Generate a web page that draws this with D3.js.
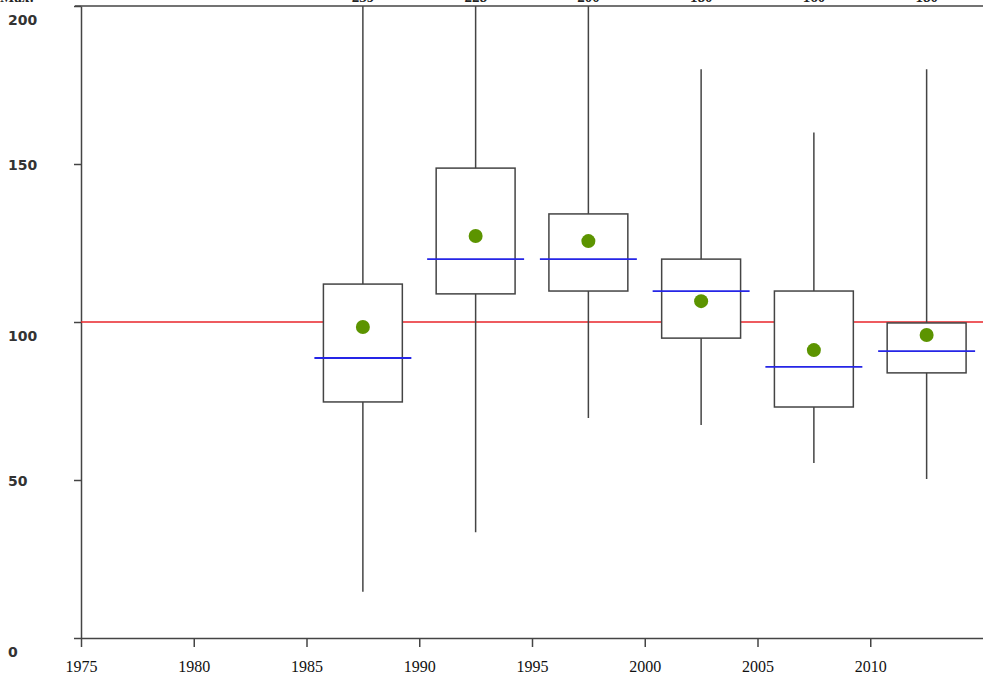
<!DOCTYPE html>
<html>
<head>
<meta charset="utf-8">
<script src="https://cdn.jsdelivr.net/npm/d3@7"></script>
<style>
  body { margin: 0; background: #fff; }
  svg { display: block; }
</style>
</head>
<body>
<div id="chart"></div>
<script>
// one box per 5-year period, centred in the period
var periods = [1987.5, 1992.5, 1997.5, 2002.5, 2007.5, 2012.5];
var mins    = [14.6, 33.5, 69.6, 67.4, 55.4, 50.3];
var q1s     = [74.7, 108.9, 109.8, 94.9, 73.1, 83.9];
var medians = [88.6, 119.9, 119.9, 109.8, 85.8, 90.8];
var means   = [98.4, 127.2, 125.6, 106.6, 91.1, 95.9];
var q3s     = [112, 148.7, 134.2, 119.9, 109.8, 99.7];
var maxs    = [239, 228, 200, 180, 160, 180];
var maxLabels = ["239", "228", "200", "180", "160", "180"];
var reference = 100;
var xTicks = [1975, 1980, 1985, 1990, 1995, 2000, 2005, 2010];
var yTicks = [0, 50, 100, 150, 200];

var data = periods.map(function(p, i) {
  return {x: p, min: mins[i], q1: q1s[i], med: medians[i], mean: means[i], q3: q3s[i], max: maxs[i], label: maxLabels[i]};
});

var width = 983, height = 681;
var margin = {top: 6, right: 0, bottom: 43, left: 81};

var svg = d3.select("#chart").append("svg")
  .attr("width", width)
  .attr("height", height);

var x = d3.scaleLinear()
  .domain([1975, 2015])
  .range([margin.left, width - margin.right]);

var y = d3.scaleLinear()
  .domain([0, 200])
  .range([height - margin.bottom, margin.top]);

var clip = v => Math.max(0, Math.min(200, v));
var boxW = x(1978.5) - x(1975);
var medW = x(1979.3) - x(1975);

// axes
svg.append("g")
  .attr("transform", `translate(0,${y(0)})`)
  .call(d3.axisBottom(x).tickValues(xTicks).tickFormat(d3.format("d")).tickSize(9).tickPadding(14).tickSizeOuter(0))
  .call(g => g.selectAll("line, path").attr("stroke", "#444").attr("stroke-width", 1.5))
  .call(g => g.selectAll("text").attr("fill", "#111")
    .style("font-family", "'Liberation Serif', serif").style("font-size", "16px"));

svg.append("g")
  .attr("transform", `translate(${margin.left},0)`)
  .call(d3.axisLeft(y).tickValues(yTicks).tickFormat("").tickSize(7).tickSizeOuter(0))
  .call(g => g.selectAll("line, path").attr("stroke", "#444").attr("stroke-width", 1.5));

// y labels sit left-aligned, the round hundreds a bit lower than their tick
svg.append("g").selectAll("text")
  .data(yTicks)
  .enter().append("text")
  .attr("x", 8)
  .attr("y", d => y(d) + (d % 100 === 0 ? 14 : 1))
  .attr("dy", "0.35em")
  .attr("fill", "#333")
  .style("font-family", "'DejaVu Sans', sans-serif")
  .style("font-weight", "bold")
  .style("font-size", "14px")
  .text(d => d);

// top frame line
svg.append("line")
  .attr("x1", margin.left - 6).attr("x2", width)
  .attr("y1", y(200)).attr("y2", y(200))
  .attr("stroke", "#444").attr("stroke-width", 1.5);

// max labels, mostly cut off by the top of the picture
svg.append("text")
  .attr("x", 0).attr("y", 2)
  .attr("fill", "#222")
  .style("font-family", "'Liberation Serif', serif").style("font-size", "15px").style("font-weight", "bold")
  .text("Max:");

svg.append("g").selectAll("text")
  .data(data)
  .enter().append("text")
  .attr("x", d => x(d.x))
  .attr("y", 2)
  .attr("text-anchor", "middle")
  .attr("fill", "#222")
  .style("font-family", "'Liberation Serif', serif").style("font-size", "15px").style("font-weight", "bold")
  .text(d => d.label);

// reference line
svg.append("line")
  .attr("x1", margin.left).attr("x2", width)
  .attr("y1", y(reference)).attr("y2", y(reference))
  .attr("stroke", "#e8252a").attr("stroke-width", 1.5);

// whiskers
svg.append("g").selectAll("line")
  .data(data)
  .enter().append("line")
  .attr("x1", d => x(d.x)).attr("x2", d => x(d.x))
  .attr("y1", d => y(clip(d.min))).attr("y2", d => y(clip(d.max)))
  .attr("stroke", "#444").attr("stroke-width", 1.5);

// boxes
svg.append("g").selectAll("rect")
  .data(data)
  .enter().append("rect")
  .attr("x", d => x(d.x) - boxW / 2)
  .attr("y", d => y(d.q3))
  .attr("width", boxW)
  .attr("height", d => y(d.q1) - y(d.q3))
  .attr("fill", "#fff")
  .attr("stroke", "#444").attr("stroke-width", 1.5);

// medians
svg.append("g").selectAll("line")
  .data(data)
  .enter().append("line")
  .attr("x1", d => x(d.x) - medW / 2).attr("x2", d => x(d.x) + medW / 2)
  .attr("y1", d => y(d.med)).attr("y2", d => y(d.med))
  .attr("stroke", "#2525e6").attr("stroke-width", 1.8);

// means
svg.append("g").selectAll("circle")
  .data(data)
  .enter().append("circle")
  .attr("cx", d => x(d.x))
  .attr("cy", d => y(d.mean))
  .attr("r", 7)
  .attr("fill", "#5c9400");
</script>
</body>
</html>
